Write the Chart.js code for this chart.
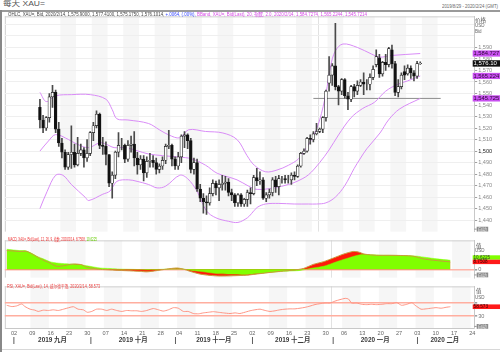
<!DOCTYPE html>
<html><head><meta charset="utf-8">
<script src="https://cdn.jsdelivr.net/npm/chart.js@4.4.1/dist/chart.umd.min.js"></script>
<style>
html,body{margin:0;padding:0;background:#fff;width:500px;height:352px;overflow:hidden;position:relative;font-family:"Liberation Sans","Noto Sans CJK SC",sans-serif;}
.t{position:absolute;white-space:nowrap;line-height:1;transform-origin:left center;z-index:5;}
canvas{position:absolute;left:0;}
.ln{position:absolute;z-index:6;}
</style></head><body>
<div class="t" id="title" style="left:3px;top:0px;font-size:8px;color:#555">每天 XAU=</div>
<div class="t" id="range" style="left:442px;top:3.5px;font-size:5px;color:#666">2019/8/29 - 2020/2/24 (GMT)</div>
<div class="ln" style="left:0;top:10px;width:500px;height:1.5px;background:#9a9a9a"></div>
<div class="ln" style="left:0;top:10px;width:2px;height:342px;background:#888"></div>
<div class="ln" style="left:2px;top:349px;width:498px;height:1px;background:#d8d8d8"></div>

<canvas id="cPrice" width="500" height="224" style="top:12px"></canvas>
<canvas id="cMacd" width="500" height="46" style="top:236px"></canvas>
<canvas id="cRsi" width="500" height="70" style="top:282px"></canvas>

<div class="t" id="hPrice" style="left:8px;top:12.3px;font-size:5.5px;color:#444">OHLC, XAU=, Bid, 2020/2/14, 1,575.9000, 1,577.4100, 1,575.1750, 1,576.1014, <span style="color:#3344ff">+.0064, (.00%), </span><span style="color:#d64ae6">BBand, XAU=, Bid(Last), 20, 指数, 2.0, 2020/2/14, 1,584.7274, 1,565.2244, 1,545.7214</span></div>
<div class="t" id="hMacd" style="left:8px;top:237.8px;font-size:4.5px;color:#ee3333">MACD, XAU=, Bid(Last), 12, 26, 9, 指数, 2020/2/14, 8.7508, <span style="color:#66cc00">10.6225</span></div>
<div class="t" id="hRsi" style="left:7px;top:284.8px;font-size:4.5px;color:#ee4444">RSI, XAU=, Bid(Last), 14, 威尔德平滑, 2020/2/14, 58.573</div>

<div class="t" style="left:475px;top:17.5px;font-size:5.5px;color:#555">价格</div>
<div class="t" style="left:475px;top:24.3px;font-size:4.5px;color:#666">USD</div>
<div class="t" style="left:475px;top:29.5px;font-size:4.5px;color:#666">Bid</div>
<div class="t" style="left:476px;top:244px;font-size:5.5px;color:#555">值</div>
<div class="t" style="left:475px;top:249.3px;font-size:4.5px;color:#666">USD</div>
<div class="t" style="left:476px;top:289.3px;font-size:5.5px;color:#555">值</div>
<div class="t" style="left:475px;top:296px;font-size:4.5px;color:#666">USD</div>

<script>
// ---------- DATA ----------
const opens  = [1538,1527,1520,1529,1547,1551,1519,1507,1499,1486,1497,1499,1488,1498,1501,1494,1498,1516,1522,1532,1505,1504,1497,1472,1479,1499,1505,1505,1493,1505,1506,1494,1488,1493,1481,1491,1492,1490,1484,1487,1492,1504,1505,1493,1487,1495,1513,1514,1509,1484,1490,1467,1459,1456,1455,1463,1472,1468,1471,1472,1473,1464,1462,1455,1462,1454,1458,1464,1463,1477,1474,1475,1459,1462,1464,1475,1469,1476,1476,1475,1475,1479,1478,1487,1498,1500,1511,1510,1515,1517,1519,1529,1559,1566,1574,1556,1552,1562,1548,1545,1556,1552,1557,1560,1558,1558,1564,1575,1581,1567,1577,1575,1588,1576,1551,1556,1569,1567,1572,1568,1565,1575.9];
const highs  = [1545,1531,1530,1550,1557,1553,1525,1511,1501,1499,1522,1506,1512,1506,1503,1510,1517,1525,1535,1533,1512,1508,1497,1482,1500,1516,1511,1506,1509,1513,1517,1499,1496,1496,1495,1498,1496,1494,1489,1495,1506,1518,1506,1495,1499,1514,1517,1515,1511,1494,1493,1471,1463,1461,1468,1475,1474,1475,1479,1478,1476,1467,1463,1463,1463,1459,1466,1468,1479,1485,1482,1477,1464,1467,1477,1478,1479,1478,1479,1479,1481,1482,1488,1499,1502,1512,1514,1517,1524,1520,1530,1553,1582,1576,1611,1557,1563,1563,1551,1557,1558,1561,1562,1568,1562,1567,1574,1588,1584,1578,1584,1590,1592,1578,1562,1568,1574,1575,1574,1570,1578,1577.41];
const lows   = [1520,1516,1518,1525,1538,1516,1504,1494,1484,1484,1485,1486,1487,1496,1486,1491,1496,1509,1520,1502,1497,1488,1469,1459,1476,1495,1501,1490,1491,1499,1487,1480,1484,1474,1477,1486,1486,1480,1481,1484,1489,1502,1487,1484,1484,1490,1503,1502,1481,1480,1465,1456,1446,1445,1453,1461,1462,1457,1466,1466,1461,1457,1452,1452,1452,1452,1452,1454,1462,1470,1471,1458,1456,1459,1461,1464,1462,1472,1472,1472,1471,1475,1477,1486,1497,1499,1506,1508,1514,1516,1516,1526,1552,1557,1553,1540,1549,1546,1536,1543,1547,1549,1556,1549,1553,1553,1562,1573,1564,1565,1570,1573,1572,1548,1547,1554,1562,1566,1563,1561,1563,1575.175];
const closes = [1527,1520,1529,1547,1551,1519,1507,1499,1486,1497,1499,1488,1498,1501,1494,1498,1516,1522,1532,1505,1504,1497,1472,1479,1499,1505,1505,1493,1505,1506,1494,1488,1493,1481,1491,1492,1490,1484,1487,1492,1504,1505,1493,1487,1495,1513,1514,1509,1484,1490,1467,1459,1456,1455,1463,1472,1468,1471,1472,1473,1464,1462,1455,1462,1454,1458,1464,1463,1477,1474,1475,1459,1462,1464,1475,1469,1476,1476,1475,1475,1479,1478,1487,1498,1500,1511,1510,1515,1517,1519,1529,1552,1566,1574,1556,1552,1562,1548,1545,1556,1552,1557,1560,1558,1558,1564,1571,1582,1567,1577,1575,1589,1576,1551,1556,1566,1566,1572,1568,1565,1576,1576.1014];

// Bollinger bands: [day index, value]
const bbUpper  = [[0,1551],[2,1543],[5,1548],[10,1549],[16,1549],[21,1545],[23,1536],[24.5,1528],[28,1527],[34.5,1524],[38,1518.5],[41,1514],[44.5,1511.5],[47.3,1518.5],[52.7,1517],[58.2,1515.7],[62.7,1510],[65.9,1496],[68.2,1487.7],[71.8,1482],[75.4,1483.5],[79.1,1487.7],[82.3,1493.3],[84.5,1501.7],[87,1513],[89,1527],[91,1550],[92.5,1574],[94,1587],[96.4,1593],[101,1590],[105.4,1584.4],[108.2,1581.6],[111.8,1583],[121,1584.7]];
const bbMiddle = [[0,1500],[2.7,1508.7],[5,1514.3],[9.1,1510],[11.8,1506],[15.5,1503],[19.1,1507.3],[21,1506],[23.6,1503],[27.3,1503],[30.9,1500.3],[34.5,1497.5],[39.1,1496],[44.5,1494.7],[48.2,1493.3],[52.7,1487.7],[56.4,1480.7],[62.7,1475],[66.4,1469.5],[69.1,1466.7],[74.5,1468],[79.1,1471],[81.8,1473.7],[85.4,1479.3],[89,1490],[92,1501],[95,1514],[99,1529],[102.7,1537],[106.4,1542.3],[110,1552],[113.6,1557.7],[117,1561],[121,1565.2]];
const bbLower  = [[0,1450],[2.3,1465],[5,1479],[7.3,1479],[10,1471],[14.5,1459.6],[15.5,1457],[20,1462.5],[22.3,1465.3],[24.5,1473.7],[28.2,1475],[30.9,1473.7],[34.5,1471],[37.3,1468],[40,1469.5],[44.5,1479],[47,1476],[50,1465],[53,1448],[56,1442],[60,1439],[63,1438],[66,1442],[67.3,1445.6],[69.1,1451],[71.8,1454],[76,1454.5],[80.9,1454],[85.4,1454],[88,1454],[91,1455],[94,1460],[97,1470],[100,1485],[101.8,1493],[104,1502],[108.2,1515.7],[110.9,1527],[114.5,1536.7],[121,1545.7]];
const hLineValue = 1545.72, hLineFrom = 87;

const macdLine   = [[0,22],[2,21.5],[3.6,21],[5.5,21],[7.3,17.2],[10,10.7],[11.8,7.5],[13.6,3.6],[15.5,4.2],[17.3,5.8],[18.6,6.3],[20.5,5.4],[21.8,2.6],[23.6,1.2],[25.5,0],[28.2,-0.6],[30.9,-1.3],[32.7,-1.6],[36.4,-2.3],[38.2,-2.9],[40.9,-1.5],[43.6,0.3],[46.4,1.6],[48.2,0.3],[50,-2.3],[52.7,-5.5],[55.5,-7.1],[58.2,-7.8],[61.8,-7.5],[65.5,-6.8],[69.1,-5],[71.8,-3.6],[75.5,-1.9],[78.2,-0.9],[80.9,1],[83.6,5.8],[86.4,9],[89.1,13.3],[91.8,17.8],[94.5,21],[95.9,20.4],[97.7,17.8],[100.9,16.5],[104.5,16.5],[108.2,16.2],[110.9,15.5],[111.8,14.5],[113.6,12.3],[116.4,10.7],[121,8.75]];
const signalLine = [[0,23.6],[3.6,22],[5,22],[6.4,19.7],[8.2,15.5],[10,12.3],[11.8,9],[13.6,7.5],[16.4,6.5],[19.1,5.8],[20.9,4.9],[22.7,3.6],[25.5,1.6],[28.2,1],[30.9,0.3],[34.5,0],[38.2,-0.5],[43.6,0.3],[46.4,0.8],[48,0.5],[50.9,-1.5],[52.7,-2.3],[57.3,-4.9],[61.8,-5.5],[65.5,-6.1],[66.4,-5.5],[70.9,-4],[75.5,-2.3],[80,-1.3],[82.7,1],[86.4,3.6],[90,9],[93.6,13.9],[96.4,17.2],[99.1,17.2],[102.7,16.5],[107.3,16.2],[111.8,15.5],[114.5,13.9],[117.3,12.3],[121,10.62]];
const rsiLine = [[0,63],[1.4,59],[2.7,61],[4.1,67],[5,59],[6.4,51],[7.7,48],[8.6,44],[10,48],[11.4,47],[12.7,49],[14.1,47],[15.5,51],[17.3,56.7],[18.2,58.6],[19.5,51],[20.9,49],[22,41.4],[23.2,44],[24.5,51],[25.9,51],[27.3,47],[28.6,51],[30,47],[31.4,44],[32.7,47],[34.1,46],[35.5,46],[36.8,44],[38.2,47],[40,53],[41.4,49],[42.7,45],[44.1,49],[45.5,55.7],[46.8,54],[48.2,44],[49.5,44],[50.9,37.6],[52.3,36.7],[53.6,39.5],[55,41.4],[56.4,43.3],[57.7,41.4],[59.1,39.5],[60.9,37.6],[62.3,39.5],[63.6,37.6],[65.5,43.3],[66.4,46.2],[67.7,49],[69.1,51],[70.5,47],[71.8,44],[73.2,46],[74.5,49],[75.9,51],[77.3,52],[78.6,52],[80,54],[81.4,56.7],[82.7,60.5],[84.1,65.2],[85.5,68],[86.8,70],[88.2,70],[89.5,75.7],[90.9,80.5],[92.3,84.3],[93.2,82.4],[94.1,70],[95.5,70],[96.8,66],[98.2,65],[99.5,66],[100.9,65],[102.3,66],[103.6,68],[105,68],[106.4,71],[107.7,63],[109.1,66],[110.5,71],[111.4,63],[113,51],[114.4,52],[115.8,54],[117.1,55.7],[118.5,54],[119.8,56.7],[121,58.6]];

const priceTicks = [1440,1450,1460,1470,1480,1490,1500,1510,1520,1530,1540,1550,1560,1570,1580,1590,1600,1610];
const rsiTicks = [30,70];
const dayTickIdx    = [2,7,12,17,22,27,32,37,42,47,52,57,62,67,72,77,82,87,92,97,102,107,112,117,122,127];
const dayTickLabels = ['02','09','16','23','30','07','14','21','28','04','11','18','25','02','09','16','23','30','06','13','20','27','03','10','17','24'];
const monthStartIdx = [2,23,46,67,89,112];
const monthLabels   = ['2019 九月','2019 十月','2019 十一月','2019 十二月','2020 一月','2020 二月'];
const lastDayIdx = 127;
const greyWeekIdx = [7,17,27,37,47,57,72,82,92,102,112,122];
const yearBreakIdx = 88.5;
const bbLast = [1584.727, 1565.224, 1545.725];
const bbLastText = ['1,584.727','1,565.224','1,545.725'];
const lastClose = 1576.10, lastCloseText = '1,576.10';
const macdLast = 8.7508, signalLast = 10.6225;
const rsiLast = 58.573;
const autoText = '自动';

// ---------- helpers ----------
const FONT = '"Liberation Sans","Noto Sans CJK SC",sans-serif';
const pts = a => a.map(([x,y]) => ({x, y}));
const idx = opens.map((_, i) => i);
const X_MIN = -0.5, X_MAX = 127.5, AXIS_W = 25.8, PAD_L = 4.83;

function drawBox(ctx, x0, x1, yc, h, bg, fg, text, size) {
  ctx.save();
  ctx.fillStyle = bg; ctx.fillRect(x0, yc - h/2, x1 - x0, h);
  ctx.fillStyle = fg; ctx.font = size + 'px ' + FONT;
  ctx.textBaseline = 'middle'; ctx.textAlign = 'left';
  const w = ctx.measureText(text).width, avail = x1 - x0 - 1.5;
  ctx.translate(x0 + 0.8, yc + 0.3);
  if (w > avail) ctx.scale(avail / w, 1);
  ctx.fillText(text, 0, 0);
  ctx.restore();
}
function drawAuto(chart, yc) {
  const ctx = chart.ctx, x0 = chart.chartArea.right;
  ctx.save();
  ctx.strokeStyle = '#999'; ctx.lineWidth = 1;
  ctx.beginPath(); ctx.moveTo(x0, yc); ctx.lineTo(x0 + 2.5, yc); ctx.stroke();
  ctx.restore();
  drawBox(ctx, x0 + 2.5, x0 + 14, yc, 4.8, '#8c8c8c', '#eeeeee', autoText, 4.6);
}

const bandsPlugin = {
  id: 'bands',
  beforeDraw(chart) {
    const {ctx, chartArea: a, scales: {x}} = chart;
    ctx.save();
    ctx.fillStyle = '#f6f6f6';
    greyWeekIdx.forEach(i => {
      const l = x.getPixelForValue(i - 0.5), r = x.getPixelForValue(Math.min(i + 4.5, X_MAX));
      ctx.fillRect(l, a.top, r - l, a.bottom - a.top);
    });
    ctx.strokeStyle = '#e2e2e2'; ctx.lineWidth = 1;
    const yb = Math.round(x.getPixelForValue(yearBreakIdx)) + 0.5;
    ctx.beginPath(); ctx.moveTo(yb, a.top); ctx.lineTo(yb, a.bottom); ctx.stroke();
    ctx.strokeStyle = '#cfcfcf';
    ctx.beginPath(); ctx.moveTo(a.left + 0.5, a.top); ctx.lineTo(a.left + 0.5, a.bottom);
    ctx.moveTo(a.left, a.top + 0.5); ctx.lineTo(a.right, a.top + 0.5); ctx.stroke();
    ctx.restore();
  }
};

function baseOptions(yScale, padTop, padBottom) {
  return {
    animation: false, responsive: false, maintainAspectRatio: false, events: [],
    layout: {padding: {left: PAD_L, right: 0, top: padTop, bottom: padBottom}},
    plugins: {legend: {display: false}, tooltip: {enabled: false}},
    scales: {
      x: {type: 'linear', min: X_MIN, max: X_MAX, display: false},
      y: Object.assign({
        position: 'right',
        afterFit: s => { s.width = AXIS_W; },
        border: {display: true, color: '#c8c8c8'}
      }, yScale)
    }
  };
}

// ---------- PRICE CHART ----------
const priceChart = new Chart(document.getElementById('cPrice'), {
  data: {
    datasets: [
      {type: 'bar', data: idx.map(i => ({x: i, y: [opens[i], closes[i]]})), grouped: false, order: 0,
       barThickness: 2.8, borderWidth: 0.7, borderSkipped: false, borderColor: '#1a1a1a',
       backgroundColor: idx.map(i => closes[i] >= opens[i] ? '#ffffff' : '#111111')},
      {type: 'bar', data: idx.map(i => ({x: i, y: [lows[i], highs[i]]})), grouped: false, order: 1,
       barThickness: 1, borderWidth: 0, backgroundColor: '#4a4a4a'},
      {type: 'line', data: pts(bbUpper), order: 2, borderColor: '#d98cf7', borderWidth: 1, pointRadius: 0, tension: 0.35},
      {type: 'line', data: pts(bbMiddle), order: 2, borderColor: '#d98cf7', borderWidth: 1, pointRadius: 0, tension: 0.35},
      {type: 'line', data: pts(bbLower), order: 2, borderColor: '#d98cf7', borderWidth: 1, pointRadius: 0, tension: 0.35},
      {type: 'line', data: [{x: hLineFrom, y: hLineValue}, {x: X_MAX, y: hLineValue}], order: 2,
       borderColor: '#8c8c8c', borderWidth: 1, pointRadius: 0}
    ]
  },
  options: baseOptions({
    min: 1430, max: 1617,
    afterBuildTicks: s => { s.ticks = priceTicks.map(v => ({value: v})); },
    grid: {color: '#efefef', lineWidth: 1, tickLength: 3,
           tickColor: c => (c.tick && c.tick.value > 1590) ? 'rgba(0,0,0,0)' : '#a0a0a0'},
    ticks: {font: {size: 5.6, family: FONT}, padding: 1,
            color: c => (c.tick && c.tick.value === 1500) ? '#222' : '#8a8a8a',
            callback: v => v <= 1590 ? v.toLocaleString('en-US') : ''}
  }, 1, 1),
  plugins: [bandsPlugin, {
    id: 'priceBoxes',
    afterDraw(chart) {
      const ctx = chart.ctx, y = chart.scales.y, x0 = chart.chartArea.right - 1.5, x1 = 500;
      bbLast.forEach((v, k) => drawBox(ctx, x0, x1, y.getPixelForValue(v), 6.2, '#c84ff0', '#2a0a33', bbLastText[k], 5.8));
      drawBox(ctx, x0, x1, y.getPixelForValue(lastClose), 6.4, '#111111', '#ffffff', lastCloseText, 6);
      drawAuto(chart, chart.chartArea.bottom - 2.5);
    }
  }]
});

// ---------- MACD CHART ----------
const macdChart = new Chart(document.getElementById('cMacd'), {
  data: {
    datasets: [
      {type: 'line', data: pts(macdLine), order: 3, borderColor: 'rgba(0,0,0,0)', borderWidth: 0,
       backgroundColor: '#ff1a0a', fill: 'origin', pointRadius: 0, tension: 0.25},
      {type: 'line', data: pts(signalLine), order: 2, borderColor: '#80ff00', borderWidth: 0.5,
       backgroundColor: '#80ff00', fill: 'origin', pointRadius: 0, tension: 0.25},
      {type: 'line', data: pts(macdLine), order: 1, borderColor: '#c99a3c', borderWidth: 1,
       fill: false, pointRadius: 0, tension: 0.25}
    ]
  },
  options: baseOptions({
    min: -9.7, max: 34,
    afterBuildTicks: s => { s.ticks = [{value: 0}]; },
    grid: {color: '#ffb4a8', lineWidth: 1.6, tickLength: 3, tickColor: '#a0a0a0'},
    ticks: {font: {size: 5.6, family: FONT}, padding: 1, color: '#777', callback: v => String(v)}
  }, 0, 1),
  plugins: [bandsPlugin, {
    id: 'macdBoxes',
    afterDraw(chart) {
      const ctx = chart.ctx, y = chart.scales.y, x0 = chart.chartArea.right - 1.5, x1 = 500, h = 4.4;
      const yr = y.getPixelForValue(macdLast);
      let yg = y.getPixelForValue(signalLast);
      if (yg > yr - h) yg = yr - h;
      drawBox(ctx, x0, x1, yg, h, '#80ff00', '#333', signalLast.toFixed(4), 4.6);
      drawBox(ctx, x0, x1, yr, h, '#ff1a1a', '#330000', macdLast.toFixed(4), 4.6);
      drawAuto(chart, chart.chartArea.bottom - 2.7);
    }
  }]
});

// ---------- RSI CHART ----------
const rsiChart = new Chart(document.getElementById('cRsi'), {
  data: {
    datasets: [
      {type: 'line', data: pts(rsiLine), borderColor: '#ff9483', borderWidth: 1, pointRadius: 0, tension: 0.2}
    ]
  },
  options: baseOptions({
    min: -7.1, max: 121.4,
    afterBuildTicks: s => { s.ticks = rsiTicks.map(v => ({value: v})); },
    grid: {color: '#ffae9f', lineWidth: 1.6, tickLength: 3, tickColor: '#a0a0a0'},
    ticks: {font: {size: 5.6, family: FONT}, padding: 1, color: '#777',
            callback: v => v === 70 ? '' : String(v)}
  }, 1, 24),
  plugins: [bandsPlugin, {
    id: 'rsiExtras',
    afterDraw(chart) {
      const ctx = chart.ctx, a = chart.chartArea, x = chart.scales.x, y = chart.scales.y;
      drawBox(ctx, a.right - 1.5, 500, y.getPixelForValue(rsiLast), 4.6, '#ff1a1a', '#330000', rsiLast.toFixed(3), 4.8);
      drawAuto(chart, a.bottom - 1.6);
      ctx.save();
      ctx.strokeStyle = '#c8c8c8'; ctx.lineWidth = 1;
      ctx.beginPath(); ctx.moveTo(a.left, a.bottom + 0.5); ctx.lineTo(a.right, a.bottom + 0.5); ctx.stroke();
      ctx.fillStyle = '#666'; ctx.font = '5.6px ' + FONT; ctx.textAlign = 'center'; ctx.textBaseline = 'middle';
      dayTickIdx.forEach((d, k) => ctx.fillText(dayTickLabels[k], x.getPixelForValue(d), a.bottom + 5));
      ctx.font = 'bold 6.4px ' + FONT; ctx.fillStyle = '#3a3a3a';
      monthStartIdx.forEach((m, k) => {
        const end = k + 1 < monthStartIdx.length ? monthStartIdx[k + 1] : lastDayIdx;
        const cx = (x.getPixelForValue(m) + x.getPixelForValue(end)) / 2;
        ctx.fillText(monthLabels[k], cx, a.bottom + 12.5);
        ctx.fillText('|', x.getPixelForValue(m), a.bottom + 12.5);
      });
      ctx.restore();
    }
  }]
});

// ---------- fit header texts to their widths ----------
function fit(id, w) {
  const el = document.getElementById(id);
  const cur = el.getBoundingClientRect().width;
  if (cur > 0) el.style.transform = 'scaleX(' + (w / cur) + ')';
}
fit('title', 42); fit('range', 56); fit('hPrice', 359); fit('hMacd', 89); fit('hRsi', 93);
</script>
</body></html>
